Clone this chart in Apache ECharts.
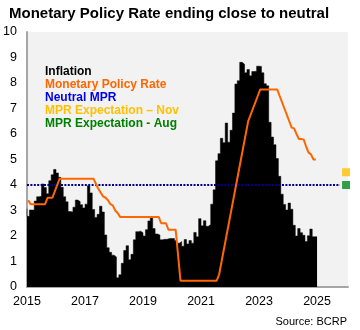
<!DOCTYPE html>
<html><head><meta charset="utf-8">
<script src="https://cdn.jsdelivr.net/npm/echarts@6/dist/echarts.min.js"></script>
<style>html,body{margin:0;padding:0;background:#fff}#c{width:360px;height:330px}</style>
</head><body><div id="c"></div>
<script>
// x positions are months counted from Jan 2015
const startYear = 2015;
const tickYears = ['2015','2017','2019','2021','2023','2025'];
// 12-month inflation, Jan 2015 .. Dec 2024
const inflation = [
 3.07,2.77,3.02,3.02,3.37,3.54,3.56,4.04,3.90,3.66,4.17,4.40,
 4.61,4.47,4.30,3.91,3.54,3.34,2.96,2.94,3.13,3.41,3.35,3.23,
 3.10,3.25,3.97,3.69,3.04,2.73,2.85,3.17,2.94,2.04,1.54,1.36,
 1.25,1.18,0.36,0.48,0.93,1.43,1.62,1.07,1.28,1.85,2.17,2.19,
 2.13,2.00,2.25,2.59,2.73,2.29,2.08,2.04,1.85,1.87,1.87,1.90,
 1.90,1.90,1.82,1.72,1.78,1.60,1.86,1.69,1.82,1.72,2.14,1.97,
 2.68,2.40,2.60,2.38,2.45,3.25,3.81,4.95,5.23,5.83,5.66,6.43,
 5.68,6.15,6.82,7.96,8.09,8.81,8.74,8.40,8.53,8.28,8.45,8.46,
 8.66,8.65,8.40,7.97,7.89,6.46,5.88,5.58,5.04,4.34,3.64,3.24,
 3.02,3.29,3.05,2.42,2.00,2.29,2.13,2.03,1.78,2.01,2.27,1.97
];
// Monetary policy rate (monthly), Jan 2015 .. Dec 2024
const mpr = [
 3.40,3.25,3.25,3.25,3.25,3.25,3.25,3.25,3.50,3.50,3.50,3.75,
 4.00,4.25,4.25,4.25,4.25,4.25,4.25,4.25,4.25,4.25,4.25,4.25,
 4.25,4.25,4.25,4.25,4.05,3.85,3.70,3.55,3.50,3.40,3.25,3.20,
 3.00,2.90,2.75,2.75,2.75,2.75,2.75,2.75,2.75,2.75,2.75,2.75,
 2.75,2.75,2.75,2.75,2.75,2.75,2.75,2.50,2.50,2.50,2.25,2.25,
 2.25,2.25,1.25,0.25,0.25,0.25,0.25,0.25,0.25,0.25,0.25,0.25,
 0.25,0.25,0.25,0.25,0.25,0.25,0.25,0.50,1.00,1.50,2.00,2.50,
 3.00,3.50,4.00,4.50,5.00,5.50,6.00,6.50,6.75,7.00,7.25,7.50,
 7.75,7.75,7.75,7.75,7.75,7.75,7.75,7.75,7.50,7.25,7.00,6.75,
 6.50,6.25,6.22,6.00,5.80,5.80,5.78,5.50,5.27,5.20,5.00,5.00
];
const neutralMPR = 4.0;
const neutralSpan = [0, 129.5];       // months
const expectationMonth = 132;          // Jan 2026
const expectationNov = 4.5;
const expectationAug = 4.0;
const xMax = 132.8;

const FONT = "'Liberation Sans', Arial, sans-serif";

const inflationData = inflation.map((v, i) => [i, v]);
inflationData.push([inflation.length, inflation[inflation.length - 1]]);
const mprData = mpr.map((v, i) => [i + 0.5, v]);
const neutralData = neutralSpan.map(m => [m, neutralMPR]);

const chart = echarts.init(document.getElementById('c'), null, {renderer: 'canvas'});
chart.setOption({
  animation: false,
  backgroundColor: '#fff',
  title: {
    text: 'Monetary Policy Rate ending close to neutral',
    left: 9, top: 6, padding: 0,
    textStyle: {fontFamily: FONT, fontSize: 15, fontWeight: 'bold', color: '#000'}
  },
  legend: {
    orient: 'vertical', left: 40, top: 65, padding: 0, itemGap: 0,
    itemWidth: 0, itemHeight: 14, icon: 'none', selectedMode: false,
    textStyle: {fontFamily: FONT, fontSize: 12, fontWeight: 'bold'},
    data: [
      {name: 'Inflation', textStyle: {color: '#000000'}},
      {name: 'Monetary Policy Rate', textStyle: {color: '#ff6600'}},
      {name: 'Neutral MPR', textStyle: {color: '#0000e6'}},
      {name: 'MPR Expectation \u2013 Nov', textStyle: {color: '#ffc000'}},
      {name: 'MPR Expectation - Aug', textStyle: {color: '#008000'}}
    ]
  },
  graphic: [{
    type: 'text', right: 13, top: 316,
    style: {text: 'Source: BCRP', font: "11px " + FONT, fill: '#000'}
  }],
  grid: {left: 27, right: 12, top: 32, bottom: 43, show: true,
         backgroundColor: '#f2f2f2', borderWidth: 0},
  xAxis: {
    type: 'value', min: 0, max: xMax, interval: 24,
    axisLine: {show: true, lineStyle: {color: '#a6a6a6', width: 2}},
    axisTick: {show: false}, splitLine: {show: false},
    axisLabel: {
      color: '#000', fontFamily: FONT, fontSize: 12.5, margin: 8,
      formatter: v => (v % 24 === 0 && v / 24 < tickYears.length) ? tickYears[v / 24] : ''
    }
  },
  yAxis: {
    type: 'value', min: 0, max: 10, interval: 1,
    axisLine: {show: true, lineStyle: {color: '#a6a6a6', width: 2}},
    axisTick: {show: false}, splitLine: {show: false},
    axisLabel: {color: '#000', fontFamily: FONT, fontSize: 12.5, margin: 10}
  },
  series: [
    {name: 'Inflation', type: 'line', step: 'start', data: inflationData,
     symbol: 'none', color: '#000', lineStyle: {width: 0.5, color: '#000'},
     areaStyle: {color: '#000', opacity: 1}, z: 1},
    {name: 'Neutral MPR', type: 'line', data: neutralData, symbol: 'none',
     color: '#0000e6', lineStyle: {color: '#00008b', width: 2, type: [2, 1.4]}, z: 2},
    {name: 'Monetary Policy Rate', type: 'line', data: mprData, symbol: 'none',
     color: '#ff6600', lineStyle: {color: '#ff6600', width: 2}, z: 3},
    {name: 'MPR Expectation \u2013 Nov', type: 'scatter', symbol: 'rect', symbolSize: 8,
     data: [[expectationMonth, expectationNov]], itemStyle: {color: '#ffc000'}, clip: false, z: 4},
    {name: 'MPR Expectation - Aug', type: 'scatter', symbol: 'rect', symbolSize: 8,
     data: [[expectationMonth, expectationAug]], itemStyle: {color: '#008a1e'}, clip: false, z: 4}
  ]
});
</script>
</body></html>
